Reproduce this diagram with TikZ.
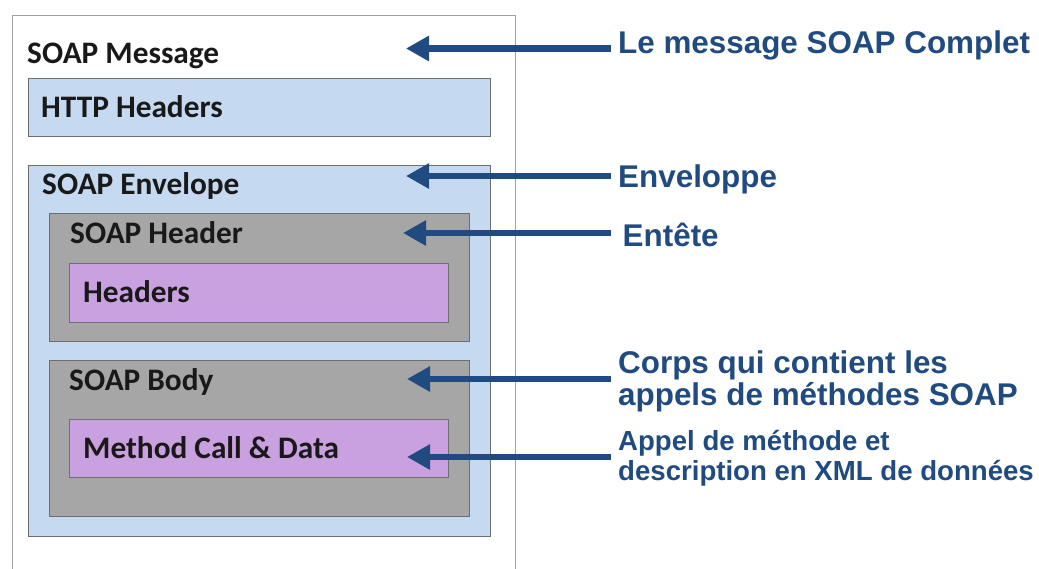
\documentclass[tikz,border=0pt]{standalone}
\usepackage{fontspec}
\setmainfont{Carlito}
\newfontfamily\arialfont{Liberation Sans}
\usetikzlibrary{arrows.meta}

\definecolor{envblue}{RGB}{197,217,240}
\definecolor{partgray}{RGB}{166,166,166}
\definecolor{itempurple}{RGB}{201,160,224}
\definecolor{notenavy}{RGB}{31,75,128}
\definecolor{edgegray}{RGB}{110,110,110}
\definecolor{outergray}{RGB}{160,160,160}

\tikzset{
  layer/.style={draw=edgegray, line width=1.4pt, anchor=north west, inner sep=0pt},
  bluebox/.style={layer, fill=envblue},
  graybox/.style={layer, fill=partgray},
  purplebox/.style={layer, fill=itempurple},
  partlabel/.style={anchor=base west, inner sep=0pt, font=\bfseries\fontsize{31.3}{35}\selectfont, text=black!90},
  note/.style={anchor=base west, inner xsep=7.5pt, inner ysep=0pt, font=\arialfont\bfseries\fontsize{31.4}{35}\selectfont, text=notenavy},
  smallnote/.style={note, font=\arialfont\bfseries\fontsize{27.6}{31}\selectfont},
  pointer/.style={draw=notenavy, line width=6.5pt, -{Triangle[width=24pt,length=23pt]}}
}

\begin{document}
\begin{tikzpicture}[x=1pt, y=-1pt]
  \useasboundingbox (0,0) rectangle (1039,568);
  \clip (0,0) rectangle (1039,568);
  \fill[white] (0,0) rectangle (1039,568);

  % nested layers of the message
  \node[layer, draw=outergray, fill=white, minimum width=503pt, minimum height=600pt] (msg) at (12,15) {};
  \node[bluebox, minimum width=462pt, minimum height=58pt] (http) at (28,78) {};
  \node[bluebox, minimum width=462pt, minimum height=371pt] (env) at (28,165) {};
  \node[graybox, minimum width=420pt, minimum height=128pt] (hdr) at (49,213) {};
  \node[purplebox, minimum width=379pt, minimum height=59pt] (hdrs) at (69,263) {};
  \node[graybox, minimum width=420pt, minimum height=156pt] (body) at (49,360) {};
  \node[purplebox, minimum width=379pt, minimum height=58pt] (call) at (69,419) {};

  % layer titles
  \node[partlabel] (lmsg) at (27,63) {SOAP Message};
  \node[partlabel] (lhttp) at (41,117) {HTTP Headers};
  \node[partlabel] (lenv) at (42,194) {SOAP Envelope};
  \node[partlabel] (lhdr) at (70,243) {SOAP Header};
  \node[partlabel] (lhdrs) at (83,302) {Headers};
  \node[partlabel] (lbody) at (69,390) {SOAP Body};
  \node[partlabel] (lcall) at (83,458) {Method Call \& Data};

  % arrow tips
  \coordinate (p1) at (406,48.5);
  \coordinate (p2) at (406,176);
  \coordinate (p3) at (403,233);
  \coordinate (p4) at (407,379);
  \coordinate (p5) at (407,457);

  % explanations
  \node[note] (n1) at (610.5,53) {Le message SOAP Complet};
  \node[note] (n2) at (610.5,187) {Enveloppe};
  \node[note] (n3) at (615,246) {Entête};
  \node[note] (n4a) at (610.5,373) {Corps qui contient les};
  \node[note] (n4b) at (610.5,405) {appels de méthodes SOAP};
  \node[smallnote] (n5a) at (610.5,450) {Appel de méthode et};
  \node[smallnote] (n5b) at (610.5,480) {description en XML de données};

  \draw[pointer] (n1.west |- p1) -- (p1);
  \draw[pointer] (n2.west |- p2) -- (p2);
  \draw[pointer] ([xshift=-4.5pt]n3.west |- p3) -- (p3);
  \draw[pointer] (n4a.west |- p4) -- (p4);
  \draw[pointer] (n5a.west |- p5) -- (p5);
\end{tikzpicture}
\end{document}
